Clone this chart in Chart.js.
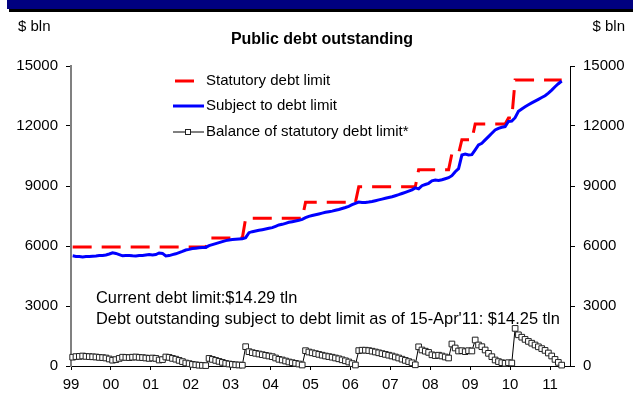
<!DOCTYPE html>
<html>
<head>
<meta charset="utf-8">
<script src="https://cdn.jsdelivr.net/npm/chart.js@4.4.1/dist/chart.umd.min.js"></script>
<style>
  html, body { margin: 0; padding: 0; background: #fff; }
  #debtChart { display: block; }
</style>
</head>
<body>
<canvas id="debtChart" width="635" height="402"></canvas>
<script>
const FONT = "'Liberation Sans', Arial, sans-serif";

// monthly figures, $ bln, Jan 1999 .. Apr 2011
const startYear = 1999;

const statutoryLimit = [
  5950, 5950, 5950, 5950, 5950, 5950, 5950, 5950, 5950, 5950, 5950, 5950,
  5950, 5950, 5950, 5950, 5950, 5950, 5950, 5950, 5950, 5950, 5950, 5950,
  5950, 5950, 5950, 5950, 5950, 5950, 5950, 5950, 5950, 5950, 5950, 5950,
  5950, 5950, 5950, 5950, 5950, 6400, 6400, 6400, 6400, 6400, 6400, 6400,
  6400, 6400, 6400, 6400, 7384, 7384, 7384, 7384, 7384, 7384, 7384, 7384,
  7384, 7384, 7384, 7384, 7384, 7384, 7384, 7384, 7384, 7384, 8184, 8184,
  8184, 8184, 8184, 8184, 8184, 8184, 8184, 8184, 8184, 8184, 8184, 8184,
  8184, 8184, 8965, 8965, 8965, 8965, 8965, 8965, 8965, 8965, 8965, 8965,
  8965, 8965, 8965, 8965, 8965, 8965, 8965, 8965, 9815, 9815, 9815, 9815,
  9815, 9815, 9815, 9815, 9815, 9815, 10615, 10615, 10615, 11315, 11315, 11315,
  11315, 12104, 12104, 12104, 12104, 12104, 12104, 12104, 12104, 12104, 12104, 12394,
  12394, 14294, 14294, 14294, 14294, 14294, 14294, 14294, 14294, 14294, 14294, 14294,
  14294, 14294, 14294, 14294
];

const subjectToLimit = [
  5510, 5480, 5470, 5450, 5470, 5480, 5490, 5500, 5520, 5530, 5550, 5600,
  5660, 5630, 5570, 5510, 5520, 5530, 5510, 5500, 5520, 5530, 5550, 5570,
  5550, 5570, 5650, 5630, 5500, 5520, 5570, 5610, 5670, 5730, 5800, 5830,
  5870, 5890, 5910, 5920, 5930, 6020, 6070, 6120, 6170, 6220, 6270, 6300,
  6320, 6340, 6350, 6360, 6417, 6667, 6717, 6751, 6784, 6817, 6851, 6884,
  6917, 6984, 7051, 7084, 7134, 7184, 7217, 7251, 7284, 7334, 7417, 7484,
  7524, 7564, 7604, 7644, 7684, 7714, 7744, 7784, 7824, 7874, 7924, 7984,
  8064, 8134, 8195, 8175, 8175, 8195, 8225, 8265, 8305, 8345, 8385, 8425,
  8465, 8515, 8565, 8625, 8685, 8745, 8805, 8905, 8855, 9015, 9075, 9135,
  9255, 9295, 9275, 9315, 9365, 9415, 9515, 9715, 9865, 10548, 10598, 10548,
  10565, 10804, 11054, 11137, 11304, 11471, 11637, 11804, 11884, 11937, 11971, 12227,
  12244, 12414, 12734, 12854, 12964, 13064, 13154, 13244, 13334, 13424, 13514, 13644,
  13794, 13964, 14114, 14250
];

const balanceOfLimit = [
  440, 470, 480, 500, 480, 470, 460, 450, 430, 420, 400, 350,
  290, 320, 380, 440, 430, 420, 440, 450, 430, 420, 400, 380,
  400, 380, 300, 320, 450, 430, 380, 340, 280, 220, 150, 120,
  80, 60, 40, 30, 20, 380, 330, 280, 230, 180, 130, 100,
  80, 60, 50, 40, 967, 717, 667, 633, 600, 567, 533, 500,
  467, 400, 333, 300, 250, 200, 167, 133, 100, 50, 767, 700,
  660, 620, 580, 540, 500, 470, 440, 400, 360, 310, 260, 200,
  120, 50, 770, 790, 790, 770, 740, 700, 660, 620, 580, 540,
  500, 450, 400, 340, 280, 220, 160, 60, 960, 800, 740, 680,
  560, 520, 540, 500, 450, 400, 1100, 900, 750, 767, 717, 767,
  750, 1300, 1050, 967, 800, 633, 467, 300, 220, 167, 133, 167,
  150, 1880, 1560, 1440, 1330, 1230, 1140, 1050, 960, 870, 780, 650,
  500, 330, 180, 44
];

const yearLabels = ['99', '00', '01', '02', '03', '04', '05', '06', '07', '08', '09', '10', '11'];
const valueTicks = [0, 3000, 6000, 9000, 12000, 15000];

// mid-month positions on the year axis
const monthPos = statutoryLimit.map((_, i) => startYear + (i + 0.5) / 12);

const toTln = v => (v / 1000).toFixed(2);

// header band, titles, legend and notes
const decorations = {
  id: 'decorations',
  beforeDraw(chart) {
    const ctx = chart.ctx;
    ctx.save();
    ctx.fillStyle = '#000080';
    ctx.fillRect(7, 0, 626, 9);
    ctx.fillStyle = '#000';
    ctx.fillRect(9, 9, 624, 3);
    ctx.restore();
  },
  afterDraw(chart) {
    const ctx = chart.ctx;
    const ds = chart.data.datasets;
    ctx.save();
    ctx.fillStyle = '#000';
    ctx.textBaseline = 'middle';

    ctx.font = `bold 16px ${FONT}`;
    ctx.textAlign = 'center';
    ctx.fillText('Public debt outstanding', 322, 40);

    ctx.font = `15px ${FONT}`;
    ctx.textAlign = 'left';
    ctx.fillText('$ bln', 18, 27);
    ctx.textAlign = 'right';
    ctx.fillText('$ bln', 625, 27);

    // legend
    const rows = [
      { d: ds[1], y: 81, x0: 175, x1: 194 },
      { d: ds[0], y: 106, x0: 173, x1: 204 },
      { d: ds[2], y: 132, x0: 173, x1: 204, marker: true }
    ];
    rows.forEach(r => {
      ctx.beginPath();
      ctx.strokeStyle = r.d.borderColor;
      ctx.lineWidth = r.d.borderWidth;
      ctx.moveTo(r.x0, r.y);
      ctx.lineTo(r.x1, r.y);
      ctx.stroke();
      if (r.marker) {
        ctx.fillStyle = '#fff';
        ctx.strokeStyle = r.d.pointBorderColor;
        ctx.lineWidth = 1;
        ctx.fillRect(185.5, r.y - 2.5, 5, 5);
        ctx.strokeRect(185.5, r.y - 2.5, 5, 5);
      }
      ctx.fillStyle = '#000';
      ctx.textAlign = 'left';
      ctx.fillText(r.d.label, 206, r.y);
    });

    // notes
    const lastLimit = statutoryLimit[statutoryLimit.length - 1];
    const lastDebt = subjectToLimit[subjectToLimit.length - 1];
    ctx.font = `16.4px ${FONT}`;
    ctx.fillText(`Current debt limit:$${toTln(lastLimit)} tln`, 96, 298);
    ctx.fillText(`Debt outstanding subject to debt limit as of 15-Apr'11: $${toTln(lastDebt)} tln`, 96, 319);
    ctx.restore();
  }
};

const yAxis = (position, width, borderColor, borderWidth) => ({
  position,
  min: 0,
  max: 15000,
  afterFit(scale) { scale.width = width; },
  afterBuildTicks(scale) { scale.ticks = valueTicks.map(v => ({ value: v })); },
  border: { color: borderColor, width: borderWidth },
  grid: { drawOnChartArea: false, tickLength: 5, tickColor: '#000' },
  ticks: {
    color: '#000',
    font: { family: FONT, size: 15 },
    padding: 8,
    callback: v => String(v)
  }
});

new Chart(document.getElementById('debtChart'), {
  type: 'line',
  data: {
    labels: monthPos,
    datasets: [
      {
        label: 'Subject to debt limit',
        data: subjectToLimit,
        borderColor: '#0000ff',
        borderWidth: 3,
        pointRadius: 0,
        order: 0
      },
      {
        label: 'Statutory debt limit',
        data: statutoryLimit,
        borderColor: '#ff0000',
        borderWidth: 3,
        borderDash: [19, 10],
        pointRadius: 0,
        order: 1
      },
      {
        label: 'Balance of statutory debt limit*',
        data: balanceOfLimit,
        borderColor: '#000',
        borderWidth: 1,
        pointStyle: 'rect',
        pointRadius: 4,
        pointBackgroundColor: '#fff',
        pointBorderColor: '#222',
        pointBorderWidth: 1,
        clip: false,
        order: 2
      }
    ]
  },
  options: {
    responsive: false,
    animation: false,
    events: [],
    layout: { padding: { top: 66, left: 0, right: 0, bottom: 0 } },
    plugins: {
      legend: { display: false },
      tooltip: { enabled: false }
    },
    scales: {
      x: {
        type: 'linear',
        min: startYear,
        max: 2011.5,
        afterFit(scale) { scale.height = 36; },
        border: { color: '#000', width: 1 },
        grid: { drawOnChartArea: false, tickLength: 4, tickColor: '#000' },
        ticks: {
          stepSize: 1,
          includeBounds: false,
          maxRotation: 0,
          autoSkip: false,
          color: '#000',
          font: { family: FONT, size: 15 },
          padding: 6,
          callback: v => yearLabels[v - startYear]
        }
      },
      y: yAxis('left', 71, '#808080', 2),
      y1: yAxis('right', 65, '#000', 1)
    }
  },
  plugins: [decorations]
});
</script>
</body>
</html>
